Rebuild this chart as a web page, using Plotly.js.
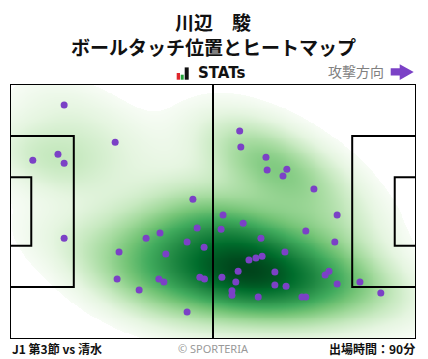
<!DOCTYPE html>
<html><head><meta charset="utf-8">
<script src="https://cdn.plot.ly/plotly-3.0.1.min.js"></script>
<style>html,body{margin:0;padding:0;background:#fff}#chart{width:428px;height:359px}</style>
</head><body><div id="chart"></div>
<script>
// Touch positions in pitch metres (x: 0-105 toward attack direction, y: 0-68 from bottom)
const touchX = [14.0, 27.2, 12.4, 5.9, 14.0, 47.3, 59.4, 59.7, 66.2, 66.5, 71.6, 70.6, 78.6,
  14.0, 48.4, 38.8, 35.2, 45.8, 50.2, 28.2, 40.3, 27.7, 38.5, 39.8, 49.1, 50.3, 33.4, 45.8,
  55.1, 84.6, 60.3, 54.6, 76.5, 64.9, 84.0, 71.1, 61.8, 63.6, 65.2, 59.0, 68.5, 54.8, 82.5,
  81.5, 58.4, 68.5, 71.4, 84.6, 90.5, 57.4, 57.4, 64.2, 75.5, 76.5, 95.9];
const touchY = [62.4, 52.5, 49.3, 47.7, 46.9, 37.3, 55.5, 51.2, 48.5, 45.1, 45.3, 43.5, 40.0,
  26.9, 29.6, 28.3, 26.9, 25.9, 24.5, 23.2, 22.7, 16.0, 16.0, 15.2, 16.5, 16.0, 13.1, 7.2,
  33.1, 33.1, 30.9, 29.3, 28.8, 26.9, 25.9, 23.2, 21.1, 21.6, 22.1, 18.1, 17.9, 16.5, 18.1,
  17.1, 15.2, 14.4, 14.1, 14.7, 15.2, 12.9, 11.7, 11.2, 11.2, 11.2, 12.3];

const playerName = '川辺　駿';
const chartTitle = 'ボールタッチ位置とヒートマップ';
const matchLabel = 'J1 第3節 vs 清水';
const minutesLabel = '出場時間：90分';
const directionLabel = '攻撃方向';

const L = 105, W = 68;
const THRESH = 0.09;
const BW_ADJUST = 1.0;
const GAMMA = 0.75;

// Gaussian KDE (Scott's rule, full covariance) of the touches, scaled to its maximum
function kde(xs, ys) {
  const n = xs.length;
  const mx = xs.reduce((a,b)=>a+b,0)/n, my = ys.reduce((a,b)=>a+b,0)/n;
  let sxx=0, syy=0, sxy=0;
  for (let i=0;i<n;i++){const dx=xs[i]-mx, dy=ys[i]-my; sxx+=dx*dx; syy+=dy*dy; sxy+=dx*dy;}
  sxx/=(n-1); syy/=(n-1); sxy/=(n-1);
  const f = Math.pow(n, -1/6)*BW_ADJUST, f2 = f*f;
  const a = sxx*f2, b = sxy*f2, d = syy*f2;
  const det = a*d - b*b;
  const ia = d/det, ib = -b/det, id = a/det;
  const gx = [], gy = [];
  const step = 0.5;
  for (let x=-1; x<=106+1e-9; x+=step) gx.push(+x.toFixed(2));
  for (let y=-1; y<=69+1e-9; y+=step) gy.push(+y.toFixed(2));
  const z = [];
  let mxv = 0;
  for (let j=0;j<gy.length;j++){
    const row = [];
    for (let i=0;i<gx.length;i++){
      let s = 0;
      for (let k=0;k<n;k++){
        const dx = gx[i]-xs[k], dy = gy[j]-ys[k];
        s += Math.exp(-0.5*(ia*dx*dx + 2*ib*dx*dy + id*dy*dy));
      }
      row.push(s); if (s>mxv) mxv=s;
    }
    z.push(row);
  }
  return {gx, gy, zp: z.map(r=>r.map(v=>Math.pow(v/mxv, GAMMA)))};
}
const K = kde(touchX, touchY);

const greens = ['#f7fcf5','#e5f5e0','#c7e9c0','#a1d99b','#74c476','#41ab5d','#238b45','#006d2c','#00441b'];
const cs = [[0,'#ffffff'],[THRESH,'#ffffff']];
greens.forEach((col,i)=>{ cs.push([THRESH+0.0001+(1-THRESH-0.0001)*i/(greens.length-1), col]); });

// pixel -> paper helpers for decorations
const PL=10.3, PR=416.3, PT=84.3, PB=339.3;
const px = v => (v-PL)/(PR-PL);
const py = v => (PB-v)/(PB-PT);

const line = {color:'#000', width:2};
const rect = (x0,y0,x1,y1)=>({type:'rect', xref:'x', yref:'y', x0, y0, x1, y1, line, layer:'above'});
const shapes = [
  rect(0,0,L,W),
  {type:'line', xref:'x', yref:'y', x0:L/2, x1:L/2, y0:0, y1:W, line, layer:'above'},
  rect(0,W/2-20.16,16.5,W/2+20.16),
  rect(0,W/2-9.16,5.5,W/2+9.16),
  rect(L-16.5,W/2-20.16,L,W/2+20.16),
  rect(L-5.5,W/2-9.16,L,W/2+9.16),
  // STATs logo bars
  {type:'rect', xref:'paper', yref:'paper', x0:px(177), x1:px(180.3), y0:py(80), y1:py(73.3), fillcolor:'#e0262c', line:{width:0}},
  {type:'rect', xref:'paper', yref:'paper', x0:px(181), x1:px(184), y0:py(80), y1:py(75), fillcolor:'#22a33a', line:{width:0}},
  {type:'rect', xref:'paper', yref:'paper', x0:px(185), x1:px(189), y0:py(80), y1:py(67.7), fillcolor:'#111', line:{width:0}},
  // attack direction arrow
  {type:'path', xref:'paper', yref:'paper', fillcolor:'#7b41c6', line:{width:0},
   path:`M${px(391)},${py(68.5)} L${px(400)},${py(68.5)} L${px(400)},${py(64.5)} L${px(414)},${py(72.3)} L${px(400)},${py(80.3)} L${px(400)},${py(75.8)} L${px(391)},${py(75.8)} Z`}
];

const traces = [
  {type:'heatmap', x:K.gx, y:K.gy, z:K.zp, zmin:0, zmax:1, colorscale:cs, zsmooth:'best', showscale:false, hoverinfo:'skip'},
  {type:'scatter', mode:'markers', x:touchX, y:touchY, marker:{size:7, color:'#7b41c6'}, hoverinfo:'skip'}
];

const jp = '"Noto Sans CJK JP", "Noto Sans", sans-serif';
const layout = {
  width:428, height:359,
  margin:{l:10, r:12, t:84, b:20, pad:0},
  paper_bgcolor:'#fff', plot_bgcolor:'#fff',
  showlegend:false,
  title:{text:''},
  xaxis:{range:[0,L], showgrid:false, zeroline:false, showticklabels:false, ticks:'', fixedrange:true},
  yaxis:{range:[0,W], showgrid:false, zeroline:false, showticklabels:false, ticks:'', fixedrange:true},
  shapes,
  annotations:[
    {text:`<b>${playerName}</b>`, xref:'paper', yref:'paper', x:0.5, y:py(21.5), xanchor:'center', yanchor:'middle', showarrow:false,
     font:{family:jp, size:19, color:'#111'}},
    {text:`<b>${chartTitle}</b>`, xref:'paper', yref:'paper', x:0.5, y:py(46.5), xanchor:'center', yanchor:'middle', showarrow:false,
     font:{family:jp, size:19, color:'#111'}},
    {text:'<b>STATs</b>', xref:'paper', yref:'paper', x:px(196), y:py(73.8), xanchor:'left', yanchor:'middle', showarrow:false,
     font:{family:'"DejaVu Sans", sans-serif', size:15, color:'#111'}},
    {text:directionLabel, xref:'paper', yref:'paper', x:px(386), y:py(71.5), xanchor:'right', yanchor:'middle', showarrow:false,
     font:{family:jp, size:14, color:'#808080'}},
    {text:`<b>${matchLabel}</b>`, xref:'paper', yref:'paper', x:px(10), y:py(349), xanchor:'left', yanchor:'middle', showarrow:false,
     font:{family:jp, size:12, color:'#111'}},
    {text:'© SPORTERIA', xref:'paper', yref:'paper', x:0.5, y:py(349), xanchor:'center', yanchor:'middle', showarrow:false,
     font:{family:'"Noto Sans", sans-serif', size:11, color:'#999'}},
    {text:`<b>${minutesLabel}</b>`, xref:'paper', yref:'paper', x:px(417), y:py(349), xanchor:'right', yanchor:'middle', showarrow:false,
     font:{family:jp, size:12, color:'#111'}}
  ]
};
Plotly.newPlot('chart', traces, layout, {staticPlot:true, displayModeBar:false});
</script></body></html>
